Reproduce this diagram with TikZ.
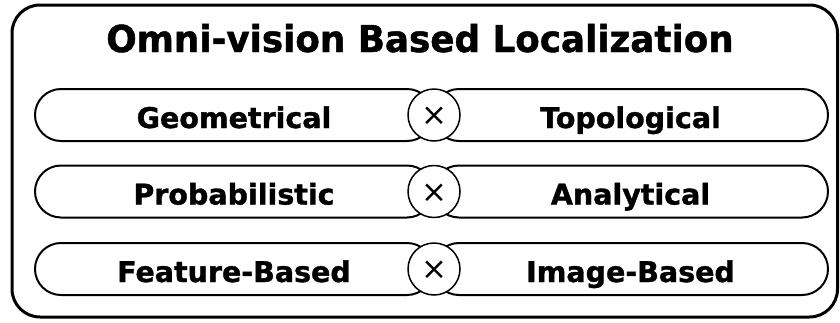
\documentclass[tikz,border=0pt]{standalone}
\usepackage{fontspec}
\setmainfont{DejaVu Sans}
\newfontfamily\titlefont{DejaVu Sans Bold}[FakeStretch=0.965, FakeBold=1.2]
\newfontfamily\pillfont{DejaVu Sans Bold}[FakeBold=1.2]
\tikzset{
  pill/.style={draw, line width=2pt, rounded corners=26pt, minimum height=52pt, inner sep=0pt,
    text height=26pt, text depth=0pt, font=\fontsize{28.5}{30}\pillfont},
  xcirc/.style={draw, circle, fill=white, line width=1.5pt, minimum size=52pt, inner sep=0pt,
    text height=21pt, text depth=0pt, font=\fontsize{31}{34}\selectfont},
}
\begin{document}
\begin{tikzpicture}[x=1pt,y=-1pt]
\useasboundingbox (0,0) rectangle (840,322);
\draw[line width=3pt, rounded corners=28pt] (12,5) rectangle (837.5,317);
\node[anchor=base, font=\fontsize{37}{40}\titlefont] (title) at (420,52) {Omni-vision Based Localization};
% row 1
\node[pill, minimum width=398pt] (geo) at (234,115) {Geometrical};
\node[pill, minimum width=395pt] (topo) at (630.5,115) {Topological};
\node[xcirc] (x1) at (434,115) {×};
% row 2
\node[pill, minimum width=398pt] (prob) at (234,191.5) {Probabilistic};
\node[pill, minimum width=395pt] (ana) at (630.5,191.5) {Analytical};
\node[xcirc] (x2) at (434,191.5) {×};
% row 3
\node[pill, minimum width=398pt] (feat) at (234,269) {Feature-Based};
\node[pill, minimum width=395pt] (img) at (630.5,269) {Image-Based};
\node[xcirc] (x3) at (434,269) {×};
\end{tikzpicture}
\end{document}
